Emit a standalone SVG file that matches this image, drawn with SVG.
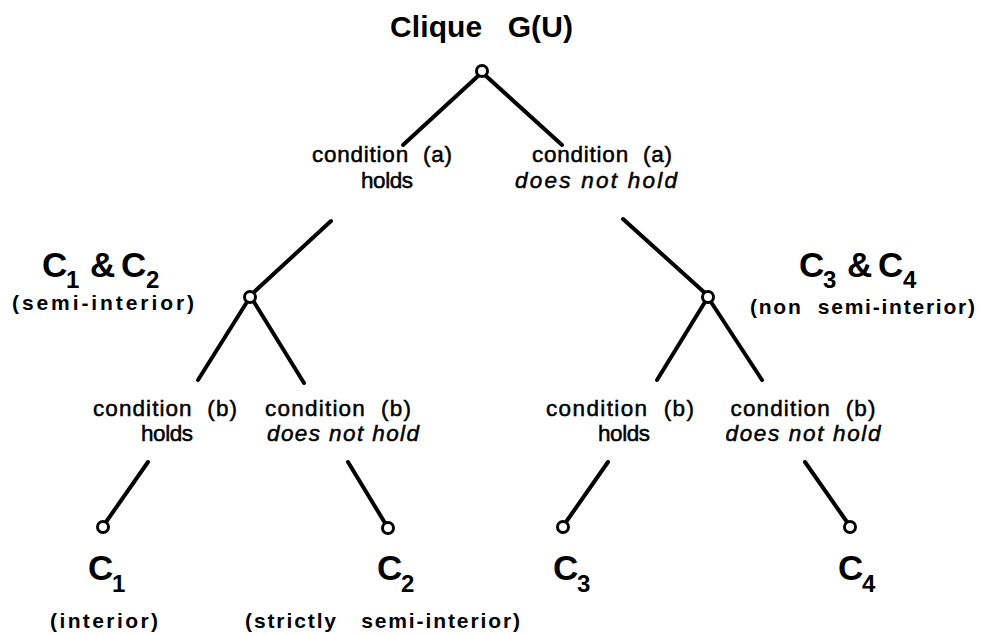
<svg xmlns="http://www.w3.org/2000/svg" width="981" height="636" viewBox="0 0 981 636">
  <style>
    .edge { stroke: #000; stroke-width: 4; stroke-linecap: round; fill: none; }
    .node { fill: #fff; stroke: #000; stroke-width: 3; }
    text { white-space: pre; font-family: "Liberation Sans", Arial, sans-serif; fill: #000; }
    .lbl { font-size: 22.5px; text-anchor: middle; stroke: #000; stroke-width: 0.5; }
    .it { font-style: italic; }
    .title { font-size: 30px; font-weight: bold; }
    .cls { font-size: 35px; font-weight: bold; }
    .sub { font-size: 24px; }
    .note { font-size: 21px; font-weight: bold; }
  </style>
  <rect width="981" height="636" fill="#fff"/>

  <!-- tree edges -->
  <g id="edges">
    <line class="edge" x1="478" y1="76" x2="403" y2="145"/>
    <line class="edge" x1="486" y1="76" x2="562" y2="145"/>
    <line class="edge" x1="331" y1="221" x2="253" y2="293"/>
    <line class="edge" x1="623" y1="219" x2="705" y2="293"/>
    <line class="edge" x1="247" y1="302" x2="198" y2="380"/>
    <line class="edge" x1="254" y1="302" x2="304" y2="383"/>
    <line class="edge" x1="705" y1="302" x2="657" y2="380"/>
    <line class="edge" x1="711" y1="302" x2="762" y2="380"/>
    <line class="edge" x1="148" y1="462" x2="106" y2="522"/>
    <line class="edge" x1="348" y1="462" x2="385" y2="523"/>
    <line class="edge" x1="608" y1="462" x2="566" y2="522"/>
    <line class="edge" x1="805" y1="462" x2="847" y2="522"/>
  </g>

  <g id="root">
    <text class="title" x="390" y="37" textLength="183" lengthAdjust="spacing">Clique   G(U)</text>
    <circle class="node" cx="482" cy="71" r="5.5"/>
  </g>

  <g id="branch-a-holds">
    <text class="lbl" x="382" y="162" textLength="140" lengthAdjust="spacing">condition  (a)</text>
    <text class="lbl" x="387" y="188" textLength="52" lengthAdjust="spacing">holds</text>
  </g>

  <g id="branch-a-not">
    <text class="lbl" x="602" y="162" textLength="140" lengthAdjust="spacing">condition  (a)</text>
    <text class="lbl it" x="596" y="188" textLength="162" lengthAdjust="spacing">does not hold</text>
  </g>

  <g id="node-c1c2">
    <circle class="node" cx="250" cy="297" r="5.5"/>
    <text class="cls"><tspan x="42" y="277">C</tspan><tspan class="sub" x="66" y="288">1</tspan><tspan x="90" y="277">&amp;</tspan><tspan x="121" y="277">C</tspan><tspan class="sub" x="146" y="288">2</tspan></text>
    <text class="note" x="12" y="310" textLength="182" lengthAdjust="spacing">(semi-interior)</text>
  </g>

  <g id="node-c3c4">
    <circle class="node" cx="708" cy="297" r="5.5"/>
    <text class="cls"><tspan x="799" y="277">C</tspan><tspan class="sub" x="823" y="288">3</tspan><tspan x="847" y="277">&amp;</tspan><tspan x="878" y="277">C</tspan><tspan class="sub" x="903" y="288">4</tspan></text>
    <text class="note" x="750" y="314" textLength="225" lengthAdjust="spacing">(non  semi-interior)</text>
  </g>

  <g id="branch-b1-holds">
    <text class="lbl" x="165" y="416" textLength="144" lengthAdjust="spacing">condition  (b)</text>
    <text class="lbl" x="167" y="441" textLength="52" lengthAdjust="spacing">holds</text>
  </g>

  <g id="branch-b1-not">
    <text class="lbl" x="338" y="416" textLength="146" lengthAdjust="spacing">condition  (b)</text>
    <text class="lbl it" x="343" y="441" textLength="152" lengthAdjust="spacing">does not hold</text>
  </g>

  <g id="branch-b2-holds">
    <text class="lbl" x="620" y="416" textLength="148" lengthAdjust="spacing">condition  (b)</text>
    <text class="lbl" x="624" y="441" textLength="52" lengthAdjust="spacing">holds</text>
  </g>

  <g id="branch-b2-not">
    <text class="lbl" x="803" y="416" textLength="145" lengthAdjust="spacing">condition  (b)</text>
    <text class="lbl it" x="803" y="441" textLength="155" lengthAdjust="spacing">does not hold</text>
  </g>

  <g id="leaf-c1">
    <circle class="node" cx="103" cy="527" r="5.5"/>
    <text class="cls"><tspan x="88" y="580">C</tspan><tspan class="sub" x="112" y="592">1</tspan></text>
    <text class="note" x="50" y="628" textLength="108" lengthAdjust="spacing">(interior)</text>
  </g>

  <g id="leaf-c2">
    <circle class="node" cx="388" cy="528" r="5.5"/>
    <text class="cls"><tspan x="377" y="580">C</tspan><tspan class="sub" x="401" y="592">2</tspan></text>
    <text class="note" x="245" y="628" textLength="275" lengthAdjust="spacing">(strictly   semi-interior)</text>
  </g>

  <g id="leaf-c3">
    <circle class="node" cx="563" cy="527" r="5.5"/>
    <text class="cls"><tspan x="553" y="580">C</tspan><tspan class="sub" x="577" y="592">3</tspan></text>
  </g>

  <g id="leaf-c4">
    <circle class="node" cx="850" cy="527" r="5.5"/>
    <text class="cls"><tspan x="838" y="580">C</tspan><tspan class="sub" x="862" y="592">4</tspan></text>
  </g>
</svg>
